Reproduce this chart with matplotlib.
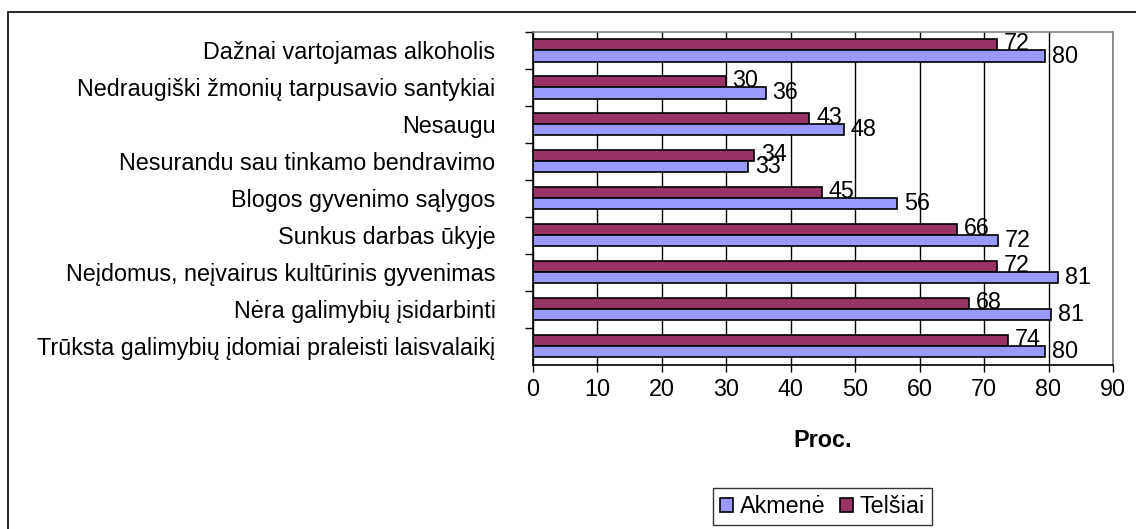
import matplotlib.pyplot as plt
from matplotlib.patches import Rectangle
from matplotlib.ticker import MultipleLocator, FixedLocator

plt.rcParams['font.family'] = ['Liberation Sans', 'DejaVu Sans']

# categories, top to bottom as in the chart
categories = [
    "Dažnai vartojamas alkoholis",
    "Nedraugiški žmonių tarpusavio santykiai",
    "Nesaugu",
    "Nesurandu sau tinkamo bendravimo",
    "Blogos gyvenimo sąlygos",
    "Sunkus darbas ūkyje",
    "Neįdomus, neįvairus kultūrinis gyvenimas",
    "Nėra galimybių įsidarbinti",
    "Trūksta galimybių įdomiai praleisti laisvalaikį",
]
akmene = [79.5, 36.1, 48.2, 33.4, 56.5, 72.2, 81.5, 80.4, 79.5]
telsiai = [72.0, 29.9, 42.9, 34.3, 44.8, 65.8, 72.0, 67.6, 73.7]
akmene_labels = ["80", "36", "48", "33", "56", "72", "81", "81", "80"]
telsiai_labels = ["72", "30", "43", "34", "45", "66", "72", "68", "74"]

C_AKM = "#9999FF"
C_TEL = "#993366"
FS = 16.8

fig = plt.figure(figsize=(11.36, 5.29), dpi=100)
W, H = 1136, 529
ax = fig.add_axes([533 / W, 1 - 364.5 / H, (1113 - 533) / W, (364.5 - 32) / H])

# chart-area border (runs off the right and bottom of the picture)
fig.patches.append(Rectangle((8 / W, -0.05), 1.1, 1 - 12 / H + 0.05,
                             transform=fig.transFigure, fill=False,
                             edgecolor="black", linewidth=1.2))

n = len(categories)
ys = [n - 1 - i for i in range(n)]
h = 0.3
ax.barh([y + h / 2 for y in ys], telsiai, height=h, color=C_TEL,
        edgecolor="black", linewidth=1.2, label="Telšiai", zorder=3)
ax.barh([y - h / 2 for y in ys], akmene, height=h, color=C_AKM,
        edgecolor="black", linewidth=1.2, label="Akmenė", zorder=3)

for y, v, lab in zip(ys, telsiai, telsiai_labels):
    ax.annotate(lab, (v, y + h / 2), xytext=(5, 1), textcoords="offset points",
                va="center", ha="left", fontsize=FS, zorder=4)
for y, v, lab in zip(ys, akmene, akmene_labels):
    ax.annotate(lab, (v, y - h / 2), xytext=(5, 0), textcoords="offset points",
                va="center", ha="left", fontsize=FS, zorder=4)

ax.set_xlim(0, 90)
ax.set_ylim(-0.5, n - 0.5)
ax.xaxis.set_major_locator(MultipleLocator(10))
ax.grid(axis="x", color="black", linewidth=1, zorder=0)
ax.tick_params(axis="x", direction="out", length=5, width=1, pad=5, labelsize=FS)

ax.set_yticks(ys)
ax.set_yticklabels(categories, fontsize=FS)
ax.tick_params(axis="y", which="major", length=0, pad=27)
ax.yaxis.set_minor_locator(FixedLocator([y + 0.5 for y in range(n)]))
ax.tick_params(axis="y", which="minor", length=6, width=1)

for side in ("top", "right"):
    ax.spines[side].set_color("#808080")
    ax.spines[side].set_linewidth(1.2)
for side in ("left", "bottom"):
    ax.spines[side].set_linewidth(1.2)

ax.set_xlabel("Proc.", fontsize=FS, fontweight="bold", labelpad=20)

handles, labels = ax.get_legend_handles_labels()
leg = fig.legend(handles[::-1], labels[::-1], loc="center",
                 bbox_to_anchor=(822.5 / W, 1 - 506.5 / H), ncol=2,
                 fontsize=FS, frameon=True, fancybox=False, edgecolor="black",
                 handlelength=0.55, handleheight=0.55, handletextpad=0.3,
                 columnspacing=0.6, borderpad=0.3, borderaxespad=0)
leg.get_frame().set_linewidth(1.0)

fig.savefig("out.png", dpi=100)
